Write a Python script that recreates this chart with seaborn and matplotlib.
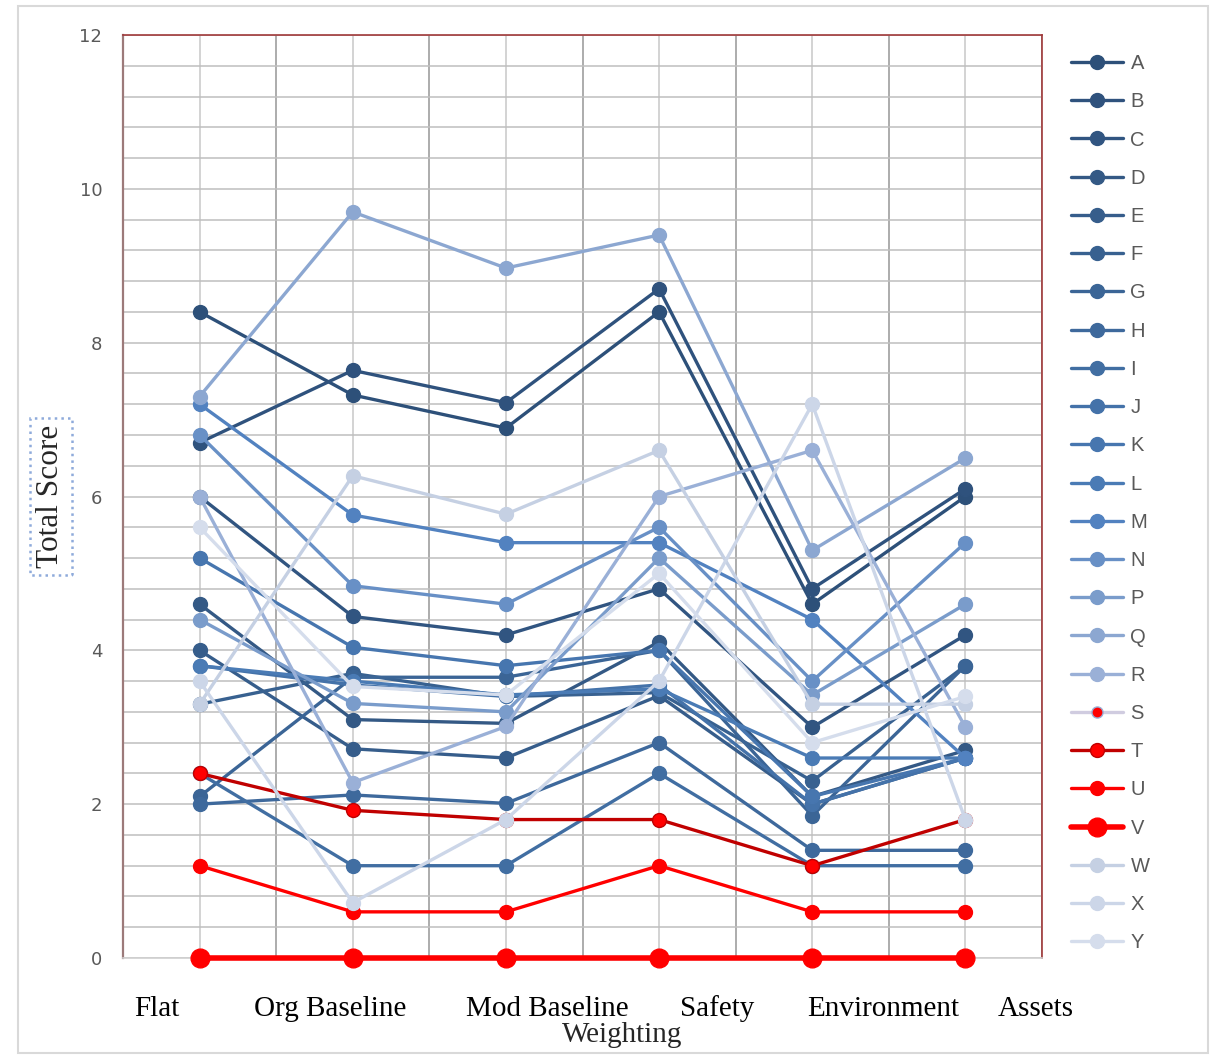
import matplotlib
matplotlib.use("Agg")
import matplotlib.pyplot as plt
import seaborn as sns
import pandas as pd
from matplotlib.ticker import MultipleLocator
from matplotlib.lines import Line2D

categories = ["Flat", "Org Baseline", "Mod Baseline", "Safety", "Environment", "Assets"]

A = [8.4, 7.32, 6.89, 8.4, 4.6, 6.0]
B = [6.7, 7.64, 7.22, 8.7, 4.8, 6.1]
C = [6.0, 4.44, 4.2, 4.8, 3.0, 4.2]
D = [4.6, 3.10, 3.05, 4.11, 2.1, 2.7]
E = [4.0, 2.72, 2.6, 3.41, 2.0, 2.6]
F = [3.3, 3.70, 3.4, 3.45, 2.3, 3.8]
G = [2.1, 3.65, 3.65, 4.0, 1.85, 3.8]
H = [2.0, 2.12, 2.01, 2.8, 1.4, 1.4]
I = [2.4, 1.2, 1.2, 2.4, 1.2, 1.2]
J = [3.8, 3.55, 3.4, 3.55, 2.0, 2.6]
K = [5.2, 4.04, 3.8, 4.0, 2.1, 2.6]
L = [3.8, 3.6, 3.42, 3.5, 2.6, 2.6]
M = [7.2, 5.76, 5.4, 5.4, 4.4, 2.6]
N = [6.8, 4.84, 4.6, 5.6, 3.6, 5.4]
P = [4.4, 3.31, 3.2, 5.2, 3.42, 4.6]
Q = [7.3, 9.7, 8.97, 9.4, 5.3, 6.5]
R = [6.0, 2.28, 3.01, 6.0, 6.6, 3.0]
S = [0, 0, 0, 0, 0, 0]
T = [2.4, 1.92, 1.8, 1.8, 1.2, 1.8]
U = [1.2, 0.6, 0.6, 1.2, 0.6, 0.6]
V = [0, 0, 0, 0, 0, 0]
W = [3.3, 6.27, 5.77, 6.6, 3.3, 3.3]
X = [3.6, 0.72, 1.8, 3.6, 7.2, 1.8]
Y = [5.6, 3.53, 3.42, 5.0, 2.8, 3.4]

series_names = ["A", "B", "C", "D", "E", "F", "G", "H", "I", "J", "K", "L",
                "M", "N", "P", "Q", "R", "S", "T", "U", "V", "W", "X", "Y"]
series_values = [A, B, C, D, E, F, G, H, I, J, K, L, M, N, P, Q, R, S, T, U, V, W, X, Y]

line_colors = {
    "A": "#2D5079", "B": "#2F527D", "C": "#315581", "D": "#345985", "E": "#365D8B",
    "F": "#386190", "G": "#3B6596", "H": "#3E699C", "I": "#416EA2", "J": "#4472A9",
    "K": "#4776AF", "L": "#4A7BB5", "M": "#5282C0", "N": "#6890C6", "P": "#7A9CCB",
    "Q": "#8CA7D1", "R": "#9AB0D7", "S": "#D0CCE0", "T": "#C00000", "U": "#FF0000",
    "V": "#FF0000", "W": "#C5D0E3", "X": "#CCD6E8", "Y": "#D5DDEC",
}
marker_face = dict(line_colors)
marker_face["S"] = "#FF0000"
marker_face["T"] = "#FF0000"
marker_edge = dict(line_colors)
marker_edge["S"] = "#9AB0D7"
marker_edge["T"] = "#C00000"

rows = []
for name, vals in zip(series_names, series_values):
    for i, v in enumerate(vals):
        rows.append({"series": name, "pos": i, "score": v})
df = pd.DataFrame(rows)

sns.set_theme(style="white")
plt.rcParams["font.family"] = ["DejaVu Sans"]

fig = plt.figure(figsize=(12.12, 10.55), dpi=100)
fig.patch.set_facecolor("white")
ax = fig.add_axes([123 / 1212, 1 - 958 / 1055, (1042 - 123) / 1212, (958 - 35) / 1055])

handles = []
for z, name in enumerate(series_names):
    sub = df[df["series"] == name]
    lw = 4.0 if name == "V" else 2.4
    ms = 13.5 if name == "V" else 10
    if name == "S":
        ms = 8
    sns.lineplot(data=sub, x="pos", y="score", ax=ax, color=line_colors[name],
                 linewidth=lw, marker="o", markersize=ms,
                 markerfacecolor=marker_face[name], markeredgecolor=marker_edge[name],
                 markeredgewidth=1.0, legend=False, zorder=3 + z * 0.01, sort=False,
                 clip_on=False)
    handles.append(Line2D([], [], color=line_colors[name], lw=lw, marker="o",
                          markersize=ms, markerfacecolor=marker_face[name],
                          markeredgecolor=marker_edge[name], markeredgewidth=1.0))

ax.set_xlim(-0.5, 5.5)
ax.set_ylim(0, 12)

# grid
ax.yaxis.set_major_locator(MultipleLocator(2))
ax.yaxis.set_minor_locator(MultipleLocator(0.4))
ax.grid(which="both", axis="y", color="#BFBFBF", lw=1.1, zorder=0)
for xv in [0.5 + k for k in range(-1, 6)]:
    ax.axvline(xv, color="#A6A6A6", lw=1.3, zorder=0)
for xv in range(6):
    ax.axvline(xv, color="#D0D0D0", lw=1.3, zorder=0)
ax.set_axisbelow(True)

ax.tick_params(axis="y", which="major", length=6, width=1, color="#888888",
               labelsize=13, labelcolor="#595959", pad=9)
ax.tick_params(axis="y", which="minor", length=0)
ax.set_yticks(range(0, 13, 2))
ax.set_yticklabels([str(v) for v in range(0, 13, 2)])

label_pos = [-0.28, 0.85, 2.27, 3.38, 4.46, 5.46]
ax.set_xticks(label_pos)
ax.set_xticklabels(categories, fontfamily="Liberation Serif", fontsize=21, color="black")
ax.tick_params(axis="x", which="both", length=0, pad=27)
ax.xaxis.set_minor_locator(MultipleLocator(10))

ax.set_xlabel("")
ax.set_ylabel("")
fig.text(622 / 1212, 1 - 1035 / 1055, "Weighting", ha="center", va="center",
         fontfamily="Liberation Serif", fontsize=21)
fig.text(51 / 1212, 1 - 496 / 1055, "Total Score", rotation=90, ha="center", va="center",
         fontfamily="Liberation Serif", fontsize=22.5,
         bbox=dict(boxstyle="square,pad=0.22", fc="none", ec="#8EAADB", ls=":", lw=1.8))

for side in ["top", "right"]:
    ax.spines[side].set_color("#A0393A")
    ax.spines[side].set_linewidth(1.2)
ax.spines["left"].set_color("#9C7A7A")
ax.spines["left"].set_linewidth(1.6)
ax.spines["bottom"].set_color("#D0D0D0")
ax.spines["bottom"].set_linewidth(1.2)

leg = fig.legend(handles, series_names, loc="upper left",
                 bbox_to_anchor=(1063 / 1212, 1 - 46 / 1055), frameon=False,
                 fontsize=14.5, labelcolor="#595959", handlelength=2.6,
                 handletextpad=0.35, labelspacing=0.955, borderaxespad=0)
for t in leg.get_texts():
    t.set_fontfamily("Liberation Sans")

# outer light border like the reference
fig.add_artist(plt.Rectangle((18 / 1212, 0.002), 1190 / 1212, 1 - 8 / 1055,
                             transform=fig.transFigure, fill=False, ec="#D9D9D9", lw=1.5))

fig.savefig("out.png", dpi=100, facecolor="white")
